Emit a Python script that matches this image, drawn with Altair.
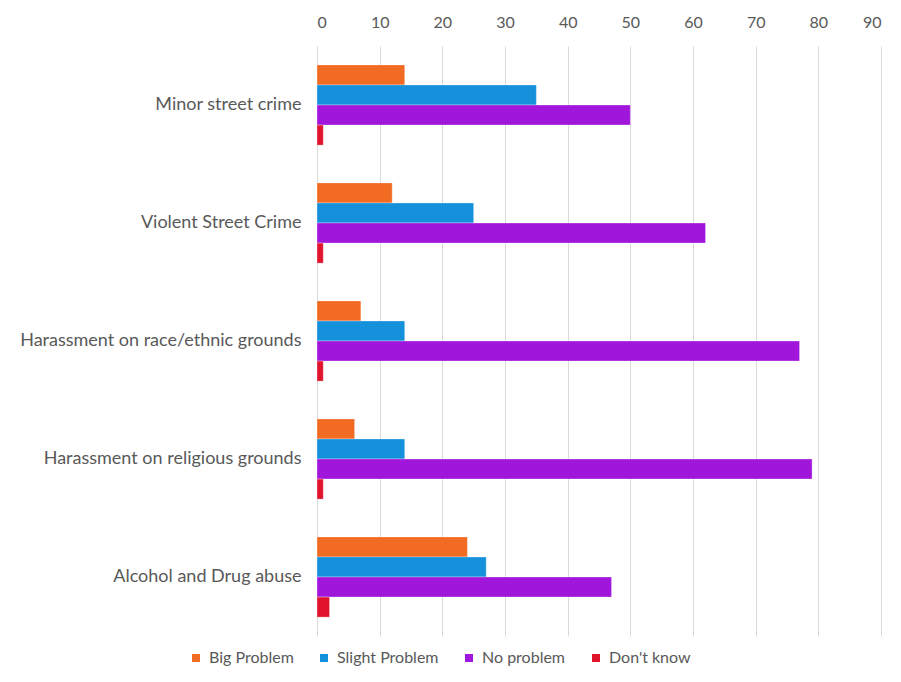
import altair as alt
import pandas as pd

categories = [
    "Minor street crime",
    "Violent Street Crime",
    "Harassment on race/ethnic grounds",
    "Harassment on religious grounds",
    "Alcohol and Drug abuse",
]
series = ["Big Problem", "Slight Problem", "No problem", "Don't know"]
big_problem = [14, 12, 7, 6, 24]
slight_problem = [35, 25, 14, 14, 27]
no_problem = [50, 62, 77, 79, 47]
dont_know = [1, 1, 1, 1, 2]
colors = ["#F26B22", "#1591DC", "#A116DB", "#E0142D"]
x_ticks = [0, 10, 20, 30, 40, 50, 60, 70, 80, 90]

rows = []
for s, vals in zip(series, [big_problem, slight_problem, no_problem, dont_know]):
    for c, v in zip(categories, vals):
        rows.append({"category": c, "series": s, "value": v})
df = pd.DataFrame(rows)

chart = (
    alt.Chart(df)
    .mark_bar(stroke="white", strokeWidth=0.6, strokeOpacity=0.5)
    .encode(
        y=alt.Y(
            "category:N",
            sort=categories,
            title=None,
            scale=alt.Scale(paddingInner=0.32, paddingOuter=0.16),
            axis=alt.Axis(
                domain=False,
                ticks=False,
                labelPadding=16,
                labelFont="Lato",
                labelFontSize=18,
                labelColor="#595959",
                labelLimit=400,
            ),
        ),
        yOffset=alt.YOffset("series:N", sort=series, scale=alt.Scale(domain=series, paddingInner=0, paddingOuter=0)),
        x=alt.X(
            "value:Q",
            title=None,
            scale=alt.Scale(domain=[0, 90], nice=False),
            axis=alt.Axis(
                orient="top",
                values=x_ticks,
                domain=False,
                ticks=False,
                grid=True,
                gridColor="#d9d9d9",
                gridWidth=1,
                labelPadding=16,
                labelFont="Lato",
                labelFontSize=16,
                labelColor="#595959",
            ),
        ),
        color=alt.Color(
            "series:N",
            sort=series,
            scale=alt.Scale(domain=series, range=colors),
            legend=alt.Legend(
                title=None,
                orient="none",
                direction="horizontal",
                legendX=-129,
                legendY=604,
                symbolType="square",
                symbolSize=64,
                symbolStrokeWidth=0,
                labelFont="Lato",
                labelFontSize=16,
                labelColor="#595959",
                columnPadding=22,
                labelOffset=5,
            ),
        ),
    )
    .properties(
        width=564,
        height=590,
        autosize=alt.AutoSizeParams(type="none"),
        padding={"left": 309, "top": 38, "right": 10, "bottom": 38},
    )
    .configure_view(stroke=None)
)

chart.save("out.html", embed_options={"renderer": "svg", "actions": False})
